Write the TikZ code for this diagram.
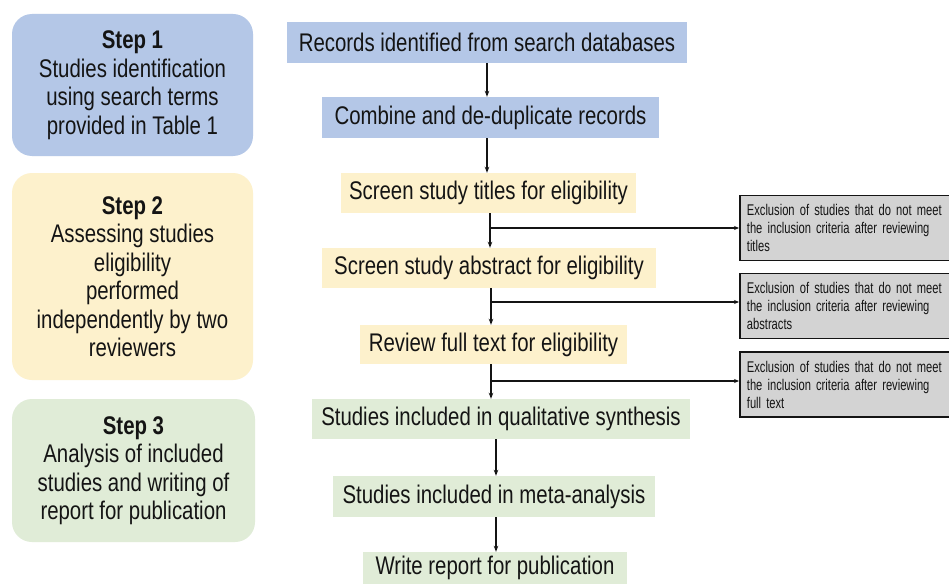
\documentclass[tikz,border=0pt]{standalone}
\usepackage{fontspec}
\setmainfont[FakeStretch=0.8]{Liberation Sans}
\newfontfamily\exfont[FakeStretch=0.72,WordSpace=0.8]{Liberation Sans}
\usetikzlibrary{arrows.meta,calc}
\definecolor{bluebox}{HTML}{B4C7E7}
\definecolor{yellowbox}{HTML}{FDF1CC}
\definecolor{greenbox}{HTML}{E0ECD7}
\definecolor{exgray}{HTML}{D3D3D3}
\definecolor{ink}{HTML}{141414}
\tikzset{
  stepbox/.style={rectangle, rounded corners=20pt, align=center, inner sep=0pt,
    text=ink, font=\fontsize{25.5}{28.5}\selectfont},
  flowbox/.style={rectangle, inner sep=0pt, text=ink, font=\fontsize{25.5}{28}\selectfont},
  exbox/.style={rectangle, draw=ink, line width=1.8pt, fill=exgray, align=left,
    text width=205pt, inner xsep=7pt, inner ysep=0pt, minimum height=65pt,
    text=ink, font=\exfont\fontsize{15.5}{18}\selectfont},
  arr/.style={draw=ink, line width=1.2pt, -{Stealth[length=6pt,width=4.5pt]}},
  branch/.style={draw=ink, line width=1.4pt, -{Stealth[length=5pt,width=4pt]}}
}
\begin{document}
\begin{tikzpicture}[x=1pt,y=-1pt]
\useasboundingbox[fill=white] (0,0) rectangle (949,583);

% left step boxes
\node[stepbox, fill=bluebox, minimum width=241pt, minimum height=142pt] (s1) at (132.5,85)
  {\textbf{Step 1}\\Studies identification\\using search terms\\provided in Table 1};
\node[stepbox, fill=yellowbox, minimum width=241pt, minimum height=207pt] (s2) at (132.5,276.5)
  {\textbf{Step 2}\\Assessing studies\\eligibility\\performed\\independently by two\\reviewers};
\node[stepbox, fill=greenbox, minimum width=243pt, minimum height=143pt] (s3) at (133.5,470.5)
  {\textbf{Step 3}\\Analysis of included\\studies and writing of\\report for publication};

% flow boxes
\node[flowbox, fill=bluebox, minimum width=400pt, minimum height=41pt] (rec) at (487,42.5)
  {Records identified from search databases};
\node[flowbox, fill=bluebox, minimum width=337pt, minimum height=41pt] (comb) at (490.5,117.5)
  {Combine and de-duplicate records};
\node[flowbox, fill=yellowbox, minimum width=295pt, minimum height=40pt] (tit) at (488.5,193)
  {Screen study titles for eligibility};
\node[flowbox, fill=yellowbox, minimum width=334pt, minimum height=40pt] (abs) at (489,268)
  {Screen study abstract for eligibility};
\node[flowbox, fill=yellowbox, minimum width=267pt, minimum height=39pt] (full) at (493.5,344.5)
  {Review full text for eligibility};
\node[flowbox, fill=greenbox, minimum width=378pt, minimum height=40pt] (qual) at (501,419)
  {Studies included in qualitative synthesis};
\node[flowbox, fill=greenbox, minimum width=322pt, minimum height=41pt] (meta) at (494,496.5)
  {Studies included in meta-analysis};
\node[flowbox, fill=greenbox, minimum width=264pt, minimum height=32pt] (rep) at (495,568)
  {Write report for publication};

% exclusion boxes
\node[exbox, anchor=west] (ex1) at (739,228)
  {Exclusion of studies that do not meet\\the inclusion criteria after reviewing\\titles};
\node[exbox, anchor=west] (ex2) at (739,306)
  {Exclusion of studies that do not meet\\the inclusion criteria after reviewing\\abstracts};
\node[exbox, anchor=west] (ex3) at (739,384.5)
  {Exclusion of studies that do not meet\\the inclusion criteria after reviewing\\full text};

% vertical arrows
\draw[arr] (rec.south) -- (rec.south |- comb.north);
\draw[arr] (rec.south |- comb.south) -- (rec.south |- tit.north);
\draw[arr] ([xshift=1.5pt]tit.south) -- ([xshift=1.5pt]tit.south |- abs.north);
\draw[arr] ([xshift=2pt]abs.south) -- ([xshift=2pt]abs.south |- full.north);
\draw[arr] ([xshift=-2.5pt]full.south) -- ([xshift=-2.5pt]full.south |- qual.north);
\draw[arr] ([xshift=2pt]meta.north |- qual.south) -- ([xshift=2pt]meta.north);
\draw[arr] ([xshift=2pt]meta.south) -- ([xshift=2pt]meta.south |- rep.north);

% branches to exclusions
\draw[branch] ([xshift=1.5pt]tit.south |- ex1.west) -- (ex1.west);
\draw[branch] ([xshift=2pt]abs.south |- 0,302) -- (ex2.west |- 0,302);
\draw[branch] ([xshift=-2.5pt]full.south |- 0,381) -- (ex3.west |- 0,381);
\end{tikzpicture}
\end{document}
